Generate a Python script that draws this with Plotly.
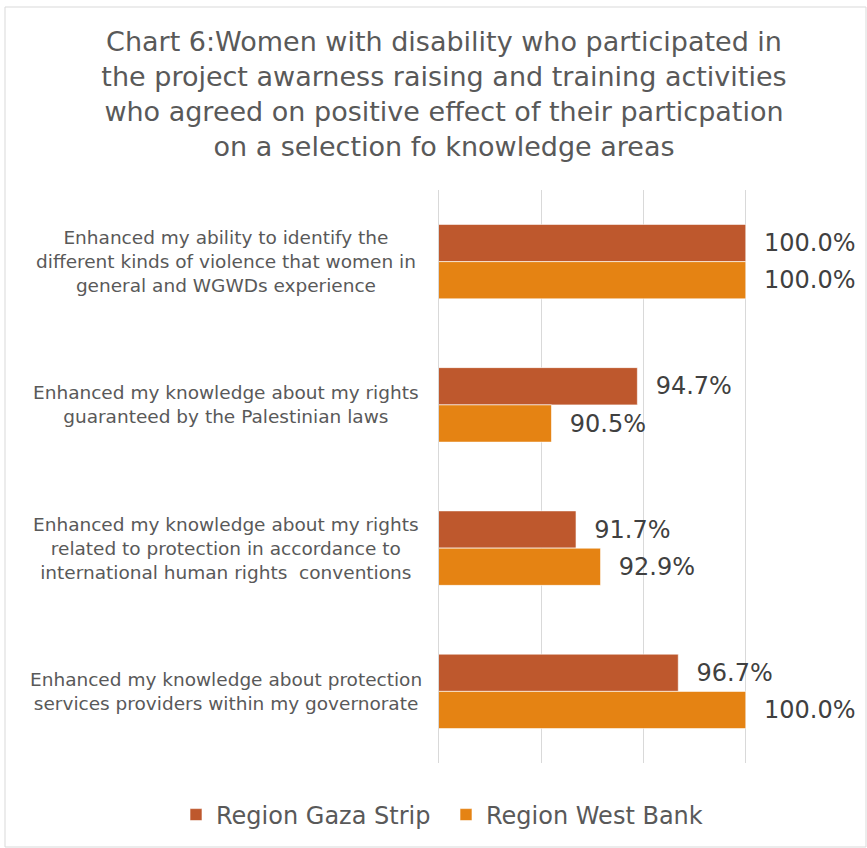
import plotly.graph_objects as go

categories = [
    "Enhanced my ability to identify the<br>different kinds of violence that women in<br>general and WGWDs experience",
    "Enhanced my knowledge about my rights<br>guaranteed by the Palestinian laws",
    "Enhanced my knowledge about my rights<br>related to protection in accordance to<br>international human rights  conventions",
    "Enhanced my knowledge about protection<br>services providers within my governorate",
]
series_names = ["Region Gaza Strip", "Region West Bank"]
gaza = [100.0, 94.7, 91.7, 96.7]
west_bank = [100.0, 90.5, 92.9, 100.0]
colors = ["#BE582D", "#E58313"]
title_text = ("Chart 6:Women with disability who participated in<br>"
              "the project awarness raising and training activities<br>"
              "who agreed on positive effect of their particpation<br>"
              "on a selection fo knowledge areas")

W, H = 867, 848
L, R, T, B = 439, 19, 190, 85
FONT = "DejaVu Sans, Verdana, sans-serif"

fig = go.Figure()
for name, vals, col in zip(series_names, [gaza, west_bank], colors):
    fig.add_trace(go.Bar(
        y=categories, x=vals, name=name, orientation="h",
        marker=dict(color=col, line=dict(color="rgba(255,255,255,0.6)", width=1)),
        text=["\u00a0\u00a0" + f"{v:.1f}%" for v in vals],
        textposition="outside", cliponaxis=False, constraintext="none",
        textfont=dict(family=FONT, size=24, color="#404040"),
        hoverinfo="skip",
    ))

pw = W - L - R
ph = H - T - B
for c in categories:
    fig.add_annotation(
        x=(226 - L) / pw, xref="paper", y=c, yref="y",
        text=c, showarrow=False, align="center", xanchor="center", yanchor="middle",
        font=dict(family=FONT, size=18.5, color="#595959"),
    )

# chart border
fig.add_shape(type="rect", xref="paper", yref="paper",
              x0=(5 - L) / pw, x1=(866 - L) / pw,
              y0=(H - 847 - B) / ph, y1=(H - 7 - B) / ph,
              line=dict(color="#D9D9D9", width=1), fillcolor="rgba(0,0,0,0)", layer="below")

fig.update_layout(
    width=W, height=H,
    margin=dict(l=L, r=R, t=T, b=B, autoexpand=False),
    paper_bgcolor="white", plot_bgcolor="white",
    barmode="group", bargap=0.48, bargroupgap=0,
    title=dict(text=title_text, x=444 / W, xref="container", xanchor="center",
               y=1 - 51 / H, yref="container", yanchor="middle",
               font=dict(family=FONT, size=27, color="#595959")),
    xaxis=dict(range=[85, 105], dtick=5, tick0=85, showticklabels=False,
               showgrid=True, gridcolor="#D9D9D9", gridwidth=1, zeroline=False,
               showline=False, fixedrange=True),
    yaxis=dict(autorange="reversed", showticklabels=False, showgrid=False,
               showline=True, linecolor="#D9D9D9", linewidth=1, zeroline=False,
               ticks=""),
    showlegend=True,
    legend=dict(orientation="h", xref="paper", x=(176 - L) / pw, xanchor="left",
                yref="paper", y=(H - B - 815) / ph, yanchor="middle",
                font=dict(family=FONT, size=24, color="#595959"),
                itemwidth=30, entrywidth=225, bgcolor="rgba(0,0,0,0)"),
)

fig.write_html("out.html")
